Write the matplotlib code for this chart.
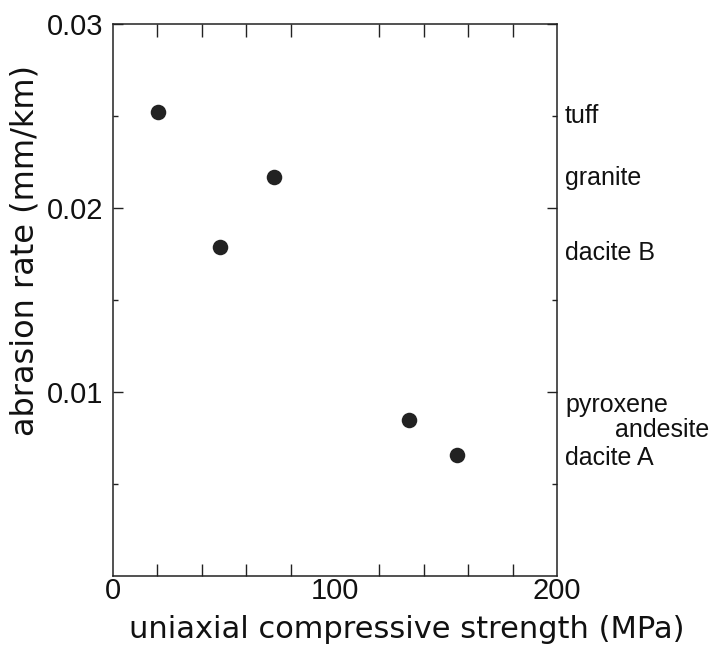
import matplotlib
matplotlib.use("Agg")
import matplotlib.pyplot as plt
import matplotlib.transforms as mtransforms

plt.rcParams['font.family'] = ['Liberation Sans', 'DejaVu Sans']

rock_types = ["tuff", "dacite B", "granite", "pyroxene andesite", "dacite A"]
strength_mpa = [20.3, 48.2, 72.5, 133.3, 155.0]
abrasion_rate = [0.0252, 0.0179, 0.0217, 0.0085, 0.0066]

right_labels = ["tuff", "granite", "dacite B", "pyroxene", "andesite", "dacite A"]
right_label_y = [0.02462, 0.02125, 0.01717, 0.00891, 0.00755, 0.00603]
right_label_dx = [0, 0, 0, 0, 50, 0]

x_major = [0, 100, 200]
x_minor = list(range(0, 201, 20))
y_major = [0.01, 0.02, 0.03]
y_major_labels = ["0.01", "0.02", "0.03"]
y_minor = [0.005, 0.015, 0.025]

fig = plt.figure(figsize=(7.12, 6.5), dpi=100)
ax = fig.add_axes([113/712, 1 - 576/650, 444/712, 552/650])

ax.scatter(strength_mpa, abrasion_rate, s=125, color="#222222", zorder=3,
           linewidths=0)

ax.set_xlim(0, 200)
ax.set_ylim(0, 0.03)
ax.set_xticks(x_major)
ax.set_xticks(x_minor, minor=True)
ax.set_yticks(y_major)
ax.set_yticklabels(y_major_labels)
ax.set_yticks(y_minor, minor=True)
ax.tick_params(which="both", direction="in", top=True, right=True, width=1.0,
               labelsize=21, colors="#222222", labelcolor="#111111")
ax.tick_params(axis="x", which="major", length=0, pad=1)
ax.tick_params(axis="x", which="minor", length=9)
ax.tick_params(axis="y", which="major", length=7, pad=7)
ax.tick_params(axis="y", which="minor", length=3.5)
for sp in ax.spines.values():
    sp.set_linewidth(1.1)
    sp.set_color("#222222")

ax.set_xlabel("uniaxial compressive strength (MPa)", fontsize=22,
              family=["DejaVu Sans"], color="#111111", va="center")
ax.xaxis.set_label_coords((407 - 113) / 444, (576 - 630) / 552)
ax.set_ylabel("abrasion rate (mm/km)", fontsize=23,
              family=["DejaVu Sans"], color="#111111", va="center")
ax.yaxis.set_label_coords((25 - 113) / 444, (576 - 250) / 552)

trans = mtransforms.blended_transform_factory(ax.transAxes, ax.transData)
for lab, yv, dx in zip(right_labels, right_label_y, right_label_dx):
    ax.text(1.0, yv, lab,
            transform=trans + mtransforms.ScaledTranslation((8 + dx) / 100, 0, fig.dpi_scale_trans),
            ha="left", va="baseline", fontsize=18, color="#111111", clip_on=False)

fig.savefig("out.png", dpi=100)
